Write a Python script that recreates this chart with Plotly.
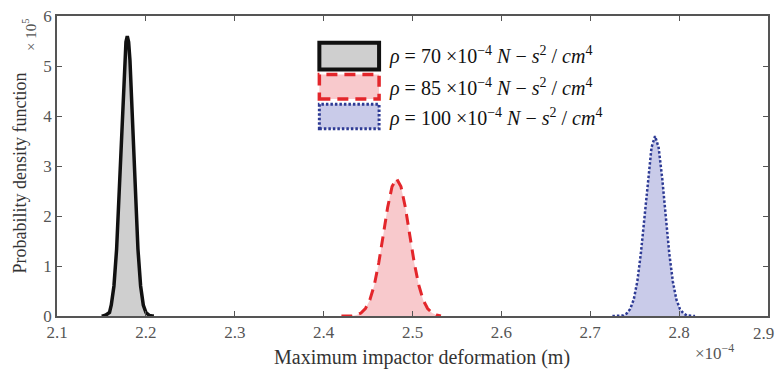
import plotly.graph_objects as go

# x in units of 1e-4 m, y in units of 1e5
x_black = [2.150, 2.152, 2.155, 2.159, 2.161, 2.164, 2.167, 2.170, 2.173, 2.176, 2.1775, 2.179,
           2.1805, 2.182, 2.185, 2.188, 2.191, 2.194, 2.197, 2.200, 2.204, 2.207, 2.209]
y_black = [0.0, 0.0, 0.02, 0.07, 0.22, 0.60, 1.34, 2.51, 3.92, 5.12, 5.48, 5.60,
           5.48, 5.12, 3.92, 2.51, 1.34, 0.60, 0.22, 0.07, 0.01, 0.0, 0.0]

x_red = [2.420, 2.432, 2.437, 2.442, 2.447, 2.452, 2.457, 2.462, 2.467, 2.472, 2.477, 2.482,
         2.487, 2.492, 2.497, 2.502, 2.507, 2.512, 2.517, 2.522, 2.527, 2.532]
y_red = [0.0, 0.0, 0.02, 0.06, 0.15, 0.32, 0.62, 1.06, 1.61, 2.17, 2.59, 2.75,
         2.59, 2.17, 1.61, 1.06, 0.62, 0.32, 0.15, 0.06, 0.02, 0.0]

x_blue = [2.725, 2.733, 2.737, 2.741, 2.745, 2.749, 2.753, 2.757, 2.761, 2.765, 2.769, 2.773,
          2.777, 2.781, 2.785, 2.789, 2.793, 2.797, 2.801, 2.805, 2.809, 2.818]
y_blue = [0.0, 0.0, 0.01, 0.05, 0.14, 0.33, 0.69, 1.25, 1.99, 2.76, 3.37, 3.60,
          3.37, 2.76, 1.99, 1.25, 0.69, 0.33, 0.14, 0.05, 0.01, 0.0]

x_ticks = [2.1, 2.2, 2.3, 2.4, 2.5, 2.6, 2.7, 2.8, 2.9]
y_ticks = [0, 1, 2, 3, 4, 5, 6]

names = [
    "<i>ρ</i> = 70 ×10<sup>−4</sup> <i>N</i> − <i>s</i><sup>2</sup> / <i>cm</i><sup>4</sup>",
    "<i>ρ</i> = 85 ×10<sup>−4</sup> <i>N</i> − <i>s</i><sup>2</sup> / <i>cm</i><sup>4</sup>",
    "<i>ρ</i> = 100 ×10<sup>−4</sup> <i>N</i> − <i>s</i><sup>2</sup> / <i>cm</i><sup>4</sup>",
]

serif = "Liberation Serif, Times New Roman, serif"

styles = [
    dict(fill="#cfcfcf", color="#111111", width=3.5, dash="solid"),
    dict(fill="#f8c9cc", color="#e3262b", width=3, dash="11px,7px"),
    dict(fill="#c9cbe9", color="#2d3a94", width=2.5, dash="2.5px,2px"),
]

fig = go.Figure()
for xs, ys, st, nm in zip([x_black, x_red, x_blue], [y_black, y_red, y_blue], styles, names):
    fig.add_trace(go.Scatter(x=xs, y=ys, mode="lines", fill="tozeroy", fillcolor=st["fill"],
                             line=dict(color=st["color"], width=st["width"], dash=st["dash"]),
                             name=nm, showlegend=False))

tick_font = dict(family=serif, size=17, color="#555555")
axis_common = dict(showline=True, linecolor="#555555", linewidth=1.5, mirror="ticks",
                   ticks="inside", ticklen=5, tickcolor="#555555", showgrid=False,
                   zeroline=False, tickfont=tick_font)

# last x tick label is drawn as an annotation so it stays inside the page (as in the reference)
x_ticktext = [str(v) for v in x_ticks[:-1]] + [""]

# manual legend (big swatches like the reference)
legend_rows = [(0.822, 0.911, 0.868), (0.723, 0.805, 0.762), (0.624, 0.706, 0.663)]
shapes = []
annotations = []
for (y0, y1, yc), st, nm in zip(legend_rows, styles, names):
    shapes.append(dict(type="rect", xref="paper", yref="paper", x0=0.369, x1=0.453, y0=y0, y1=y1,
                       fillcolor=st["fill"],
                       line=dict(color=st["color"], width=st["width"] + 0.5, dash=st["dash"])))
    annotations.append(dict(text=nm, x=0.464, y=yc, xref="paper", yref="paper", showarrow=False,
                            xanchor="left", yanchor="middle",
                            font=dict(family=serif, size=20, color="#111111")))

px_annotations = [
    dict(text="Probability density function", x=20, y=172,
         textangle=-90, font=dict(family=serif, size=18, color="#333333"),
         xanchor="center", yanchor="middle"),
    dict(text="× 10<sup>5</sup>", x=29, y=32,
         textangle=-90, font=dict(family=serif, size=15, color="#555555"),
         xanchor="center", yanchor="middle"),
    dict(text="Maximum impactor deformation (m)", x=423, y=358,
         font=dict(family=serif, size=20, color="#333333"),
         xanchor="center", yanchor="middle"),
    dict(text="×10<sup>−4</sup>", x=716, y=352,
         font=dict(family=serif, size=17, color="#555555"),
         xanchor="center", yanchor="middle"),
    dict(text=str(x_ticks[-1]), x=765, y=334, font=tick_font,
         xanchor="center", yanchor="middle"),
]
for a in px_annotations:
    a["x"] = (a["x"] - 57) / 713
    a["y"] = (316 - a["y"]) / 303
    a.update(xref="paper", yref="paper", showarrow=False)
annotations += px_annotations

fig.update_layout(
    width=777, height=373,
    margin=dict(l=57, r=7, t=13, b=57),
    plot_bgcolor="white", paper_bgcolor="white",
    xaxis=dict(range=[2.0999, 2.9001], tickvals=x_ticks, ticktext=x_ticktext, **axis_common),
    yaxis=dict(range=[0, 6.0005], tickvals=y_ticks, ticktext=[str(v) for v in y_ticks],
               **axis_common),
    showlegend=False,
    shapes=shapes,
    annotations=annotations,
)

fig.write_html("out.html", config={"displayModeBar": False},
               post_script="document.body.style.margin='0px';")
